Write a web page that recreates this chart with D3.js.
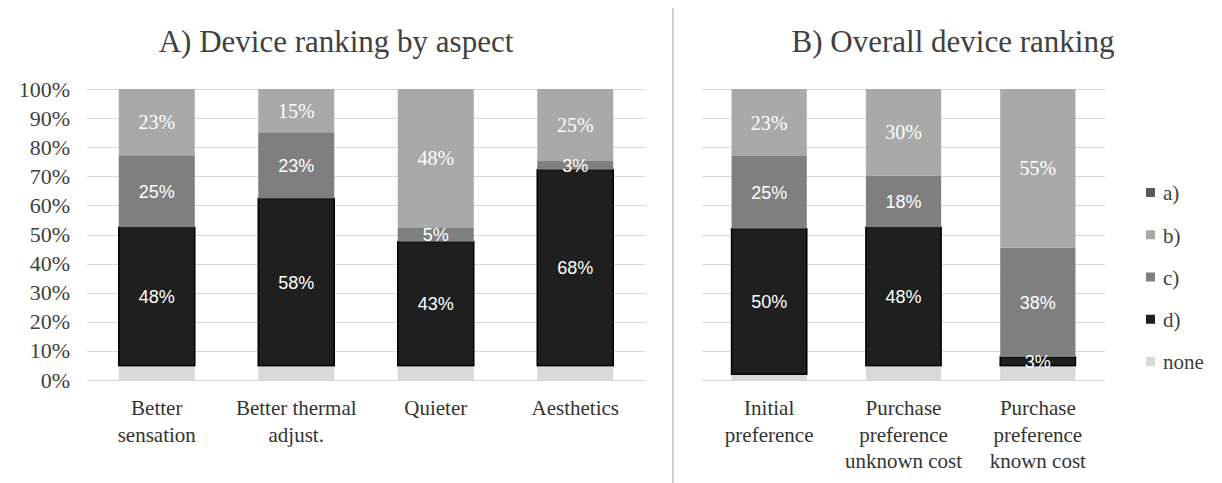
<!DOCTYPE html>
<html>
<head>
<meta charset="utf-8">
<script src="https://cdn.jsdelivr.net/npm/d3@7/dist/d3.min.js"></script>
<style>
  html, body { margin: 0; padding: 0; background: #fff; }
  svg { display: block; }
</style>
</head>
<body>
<svg id="chart" width="1222" height="483"></svg>
<script>
// Series, bottom of each stack first
const seriesKeys = ["none", "d", "c", "b", "a"];
const legendKeys = ["a", "b", "c", "d", "none"];
const legendLabels = ["a)", "b)", "c)", "d)", "none"];

// Panel A: device ranking by aspect
const aspectCategories = ["Better sensation", "Better thermal adjust.", "Quieter", "Aesthetics"];
const aspectLabelLines = [["Better", "sensation"], ["Better thermal", "adjust."], ["Quieter"], ["Aesthetics"]];
const aspectNone = [5, 5, 5, 5];
const aspectD = [48, 58, 43, 68];
const aspectC = [25, 23, 5, 3];
const aspectB = [23, 15, 48, 25];
const aspectA = [0, 0, 0, 0];

// Panel B: overall device ranking
const overallCategories = ["Initial preference", "Purchase preference unknown cost", "Purchase preference known cost"];
const overallLabelLines = [["Initial", "preference"], ["Purchase", "preference", "unknown cost"], ["Purchase", "preference", "known cost"]];
const overallNone = [2, 5, 5];
const overallD = [50, 48, 3];
const overallC = [25, 18, 38];
const overallB = [23, 30, 55];
const overallA = [0, 0, 0];

const yTicks = [0, 0.1, 0.2, 0.3, 0.4, 0.5, 0.6, 0.7, 0.8, 0.9, 1.0];

const colors = { a: "#595959", b: "#a9a9a9", c: "#7f7f7f", d: "#1f1f1f", none: "#d9d9d9" };

const svg = d3.select("#chart");
const serif = "'Liberation Serif', 'Times New Roman', serif";
const sans = "'Liberation Sans', Arial, sans-serif";

const y = d3.scaleLinear().domain([0, 1]).range([380, 89]);

function rows(cats, none, d, c, b, a) {
  return cats.map((cat, i) => ({ cat, none: none[i], d: d[i], c: c[i], b: b[i], a: a[i] }));
}

const stack = d3.stack().keys(seriesKeys).order(d3.stackOrderNone).offset(d3.stackOffsetExpand);

function panel(opts) {
  const { data, cats, lines, x0, x1, padding, title, titleX, showY } = opts;
  const g = svg.append("g");
  const x = d3.scaleBand().domain(cats).range([x0, x1]).paddingInner(padding).paddingOuter(padding / 2);

  // gridlines
  g.append("g").selectAll("line").data(yTicks).join("line")
    .attr("x1", x0).attr("x2", x1)
    .attr("y1", d => Math.round(y(d)) + 0.5).attr("y2", d => Math.round(y(d)) + 0.5)
    .attr("stroke", "#d9d9d9").attr("stroke-width", 1.2);

  if (showY) {
    const ax = g.append("g").attr("transform", `translate(${x0},0)`)
      .call(d3.axisLeft(y).tickValues(yTicks).tickFormat(d3.format(".0%")).tickSize(0).tickPadding(17));
    ax.select(".domain").remove();
    ax.selectAll("text").attr("font-family", serif).attr("font-size", 22).attr("fill", "#404040");
  }

  const stacked = stack(data);
  const layers = g.append("g").selectAll("g").data(stacked).join("g")
    .attr("fill", s => colors[s.key]);
  layers.selectAll("rect").data(s => s.map(p => ({ key: s.key, p }))).join("rect")
    .attr("x", d => x(d.p.data.cat))
    .attr("width", x.bandwidth())
    .attr("y", d => y(d.p[1]))
    .attr("height", d => Math.max(0, y(d.p[0]) - y(d.p[1])))
    .attr("stroke", d => d.key === "d" ? "#000" : "none")
    .attr("stroke-width", d => d.key === "d" ? 1.5 : 0);

  // value labels on the ranked segments
  const labelled = stacked.filter(s => s.key === "d" || s.key === "c" || s.key === "b");
  g.append("g").selectAll("g").data(labelled).join("g")
    .selectAll("text").data(s => s.filter(p => p.data[s.key] > 0).map(p => ({ key: s.key, p })))
    .join("text")
    .attr("x", d => x(d.p.data.cat) + x.bandwidth() / 2)
    .attr("y", d => y((d.p[0] + d.p[1]) / 2))
    .attr("dy", "0.36em")
    .attr("text-anchor", "middle")
    .attr("font-family", d => d.key === "b" ? serif : sans)
    .attr("font-size", d => d.key === "b" ? 20 : 18)
    .attr("fill", "#fff")
    .text(d => d.p.data[d.key] + "%");

  // category labels
  const xa = g.append("g").attr("transform", "translate(0,380)")
    .call(d3.axisBottom(x).tickSize(0).tickPadding(0).tickFormat(""));
  xa.select(".domain").remove();
  xa.selectAll(".tick").each(function (cat, i) {
    const t = d3.select(this).append("text")
      .attr("text-anchor", "middle").attr("font-family", serif).attr("font-size", 21)
      .attr("fill", "#333");
    lines[i].forEach((ln, j) => {
      t.append("tspan").attr("x", 0).attr("y", 35 + j * 26.5).text(ln);
    });
  });

  g.append("text").attr("x", titleX).attr("y", 52).attr("text-anchor", "middle")
    .attr("font-family", serif).attr("font-size", 31).attr("fill", "#404040").text(title);
}

panel({
  data: rows(aspectCategories, aspectNone, aspectD, aspectC, aspectB, aspectA),
  cats: aspectCategories, lines: aspectLabelLines,
  x0: 87, x1: 645, padding: 0.455,
  title: "A) Device ranking  by aspect", titleX: 336, showY: true
});

panel({
  data: rows(overallCategories, overallNone, overallD, overallC, overallB, overallA),
  cats: overallCategories, lines: overallLabelLines,
  x0: 702, x1: 1105, padding: 0.44,
  title: "B) Overall device ranking", titleX: 953, showY: false
});

// divider between panels
svg.append("line").attr("x1", 673).attr("x2", 673).attr("y1", 8).attr("y2", 483)
  .attr("stroke", "#cfcfcf").attr("stroke-width", 2);

// legend
const legend = svg.append("g").attr("transform", "translate(1146,0)");
const ly = d3.scalePoint().domain(legendKeys).range([193, 362]);
const li = legend.selectAll("g").data(legendKeys).join("g")
  .attr("transform", k => `translate(0,${ly(k)})`);
li.append("rect").attr("x", 0).attr("y", -5).attr("width", 9).attr("height", 9)
  .attr("fill", k => colors[k]);
li.append("text").attr("x", 17).attr("y", 0).attr("dy", "0.35em")
  .attr("font-family", serif).attr("font-size", 21).attr("fill", "#404040")
  .text((k, i) => legendLabels[i]);
</script>
</body>
</html>
